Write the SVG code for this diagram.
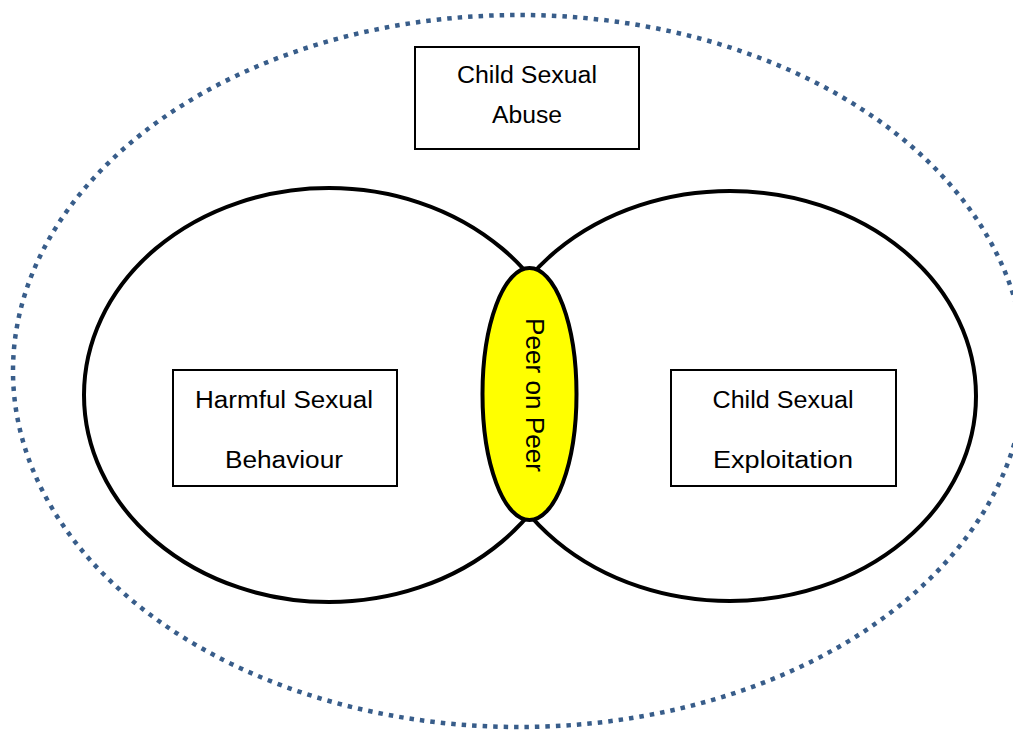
<svg xmlns="http://www.w3.org/2000/svg" width="1013" height="730" viewBox="0 0 1013 730">
<style>
.outer{fill:none;stroke:#385d8a;stroke-width:4.5;stroke-dasharray:4.5 6}
.ring{fill:none;stroke:#000;stroke-width:4}
.peer{fill:#ffff00;stroke:#000;stroke-width:4}
.box{fill:#fff;stroke:#000;stroke-width:2}
.lbl{font-family:"Liberation Sans",Arial,sans-serif;font-size:23px;fill:#000;text-anchor:middle}
.plbl{font-family:"Liberation Sans",Arial,sans-serif;font-size:26px;fill:#000;text-anchor:middle}
</style>
<rect width="1013" height="730" fill="#fff"/>
<g id="csa-boundary"><ellipse class="outer" cx="519" cy="371" rx="506" ry="356"/></g>
<g id="hsb-circle"><ellipse class="ring" cx="329" cy="395" rx="245" ry="207"/></g>
<g id="cse-circle"><ellipse class="ring" cx="730" cy="396" rx="246" ry="205"/></g>
<g id="peer-on-peer">
<ellipse class="peer" cx="529.5" cy="394" rx="47" ry="126"/>
<text class="plbl" transform="translate(526,395) rotate(90)" textLength="154" lengthAdjust="spacingAndGlyphs">Peer on Peer</text>
</g>
<g id="csa-box">
<rect class="box" x="415" y="47" width="224" height="102"/>
<text class="lbl" x="527" y="83" textLength="140" lengthAdjust="spacingAndGlyphs">Child Sexual</text>
<text class="lbl" x="527" y="123" textLength="70" lengthAdjust="spacingAndGlyphs">Abuse</text>
</g>
<g id="hsb-box">
<rect class="box" x="173" y="370" width="224" height="116"/>
<text class="lbl" x="284" y="408" textLength="178" lengthAdjust="spacingAndGlyphs">Harmful Sexual</text>
<text class="lbl" x="284" y="468" textLength="118" lengthAdjust="spacingAndGlyphs">Behaviour</text>
</g>
<g id="cse-box">
<rect class="box" x="671" y="370" width="225" height="116"/>
<text class="lbl" x="783" y="408" textLength="141" lengthAdjust="spacingAndGlyphs">Child Sexual</text>
<text class="lbl" x="783" y="468" textLength="140" lengthAdjust="spacingAndGlyphs">Exploitation</text>
</g>
<g id="connectors"></g>
</svg>
